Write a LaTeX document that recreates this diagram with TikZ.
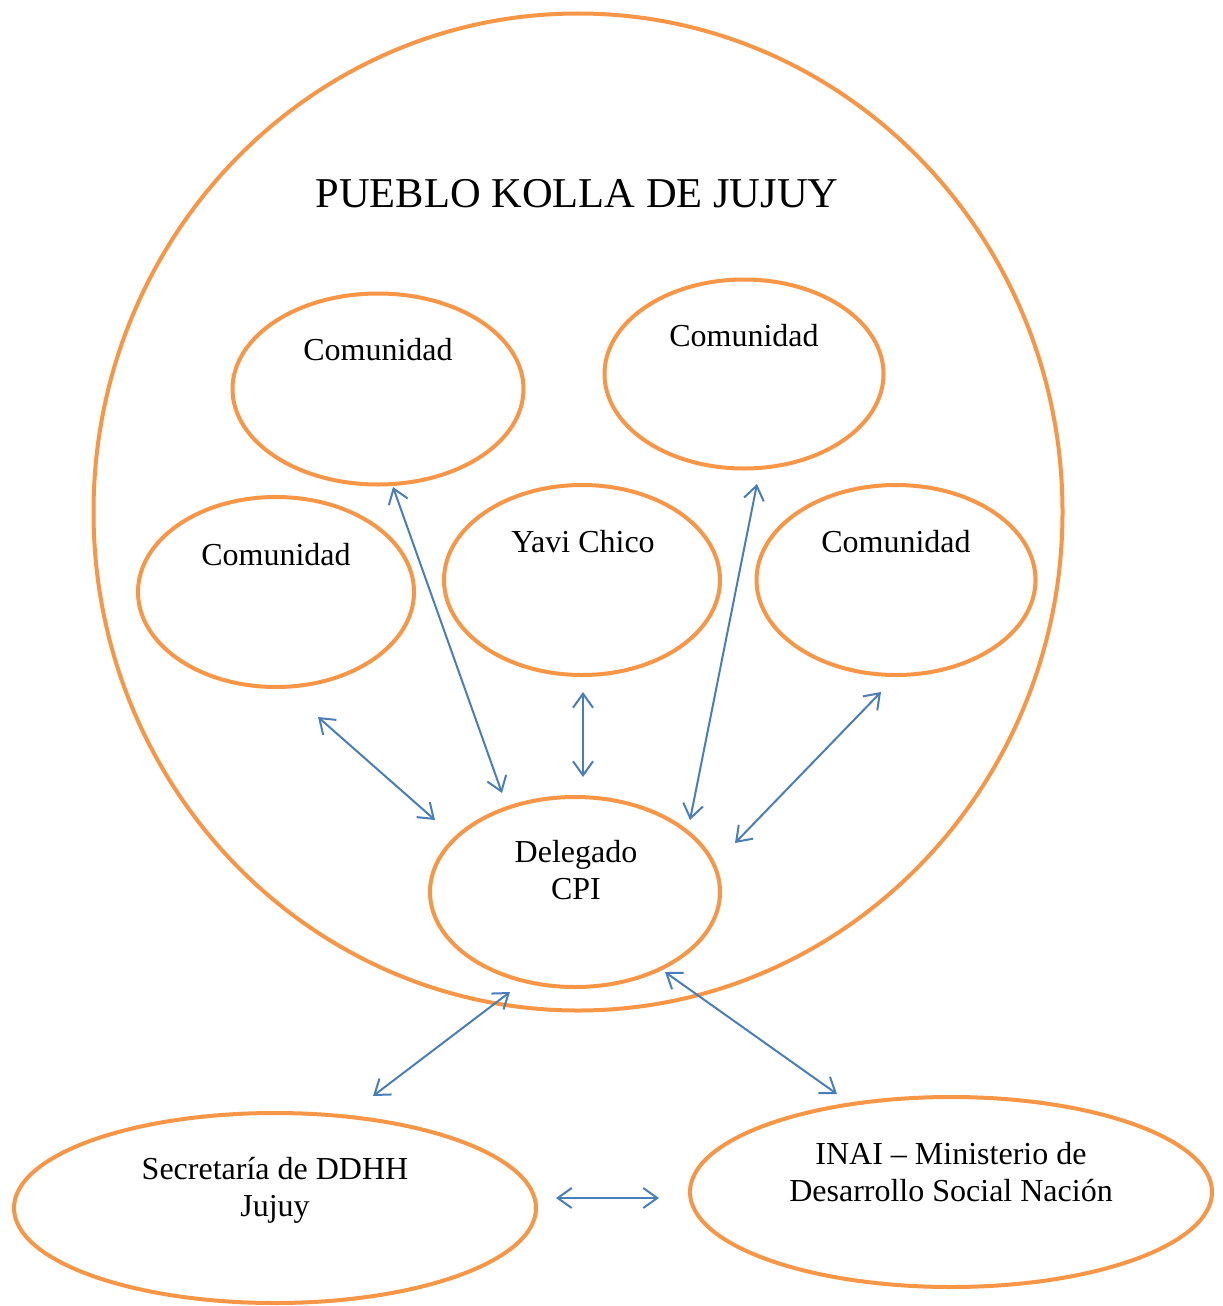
\documentclass[tikz,border=0pt]{standalone}
\usepackage{fontspec}
\setmainfont{Liberation Serif}
\usetikzlibrary{shapes.geometric,arrows.meta}
\definecolor{orng}{HTML}{F79646}
\definecolor{blu}{HTML}{4A7EBB}
\tikzset{
  oval/.style={ellipse,draw=orng,line width=4pt,inner sep=0pt},
  txt/.style={anchor=base,align=center,font=\fontsize{32}{37}\selectfont,inner sep=0pt},
  conn/.style={draw=blu,line width=2pt,{Straight Barb[length=14pt,width=20pt]}-{Straight Barb[length=14pt,width=20pt]}}
}
\begin{document}
\begin{tikzpicture}[x=1pt,y=-1pt]
\useasboundingbox (0,0) rectangle (1223,1306);
% ovals
\node[oval,minimum width=969,minimum height=997] (big) at (578,512) {};
\node[oval,minimum width=291,minimum height=191] (c1) at (378,389) {};
\node[oval,minimum width=279,minimum height=189] (c2) at (744,374) {};
\node[oval,minimum width=276,minimum height=190] (c3) at (276,592) {};
\node[oval,minimum width=276,minimum height=190] (yc) at (582,580) {};
\node[oval,minimum width=279,minimum height=190] (c5) at (896,580) {};
\node[oval,minimum width=290,minimum height=190] (del) at (575,892) {};
\node[oval,minimum width=522,minimum height=190] (sec) at (275,1208) {};
\node[oval,minimum width=522,minimum height=190] (inai) at (951,1192) {};
% texts
\node[txt,font=\fontsize{42.5}{50}\selectfont] (title) at (577,207) {PUEBLO KOLLA DE JUJUY};
\node[txt] (t1) at (378,360) {Comunidad};
\node[txt] (t2) at (744,346) {Comunidad};
\node[txt] (t3) at (276,565) {Comunidad};
\node[txt] (t4) at (583,552) {Yavi Chico};
\node[txt] (t5) at (896,552) {Comunidad};
\node[txt] (t6) at (576,899) {Delegado\\CPI};
\node[txt] (t7) at (275,1216) {Secretaría de DDHH\\Jujuy};
\node[txt] (t8) at (951,1201) {INAI – Ministerio de\\Desarrollo Social Nación};
% connector ends
\coordinate (a1) at (318,717); \coordinate (b1) at (435,820);
\coordinate (a2) at (393,487); \coordinate (b2) at (502,793);
\coordinate (a3) at (583,692); \coordinate (b3) at (583,777);
\coordinate (a4) at (757,484); \coordinate (b4) at (690,820);
\coordinate (a5) at (881,692); \coordinate (b5) at (735,843);
\coordinate (a6) at (510,992); \coordinate (b6) at (373,1096);
\coordinate (a7) at (665,972); \coordinate (b7) at (837,1094);
\coordinate (a8) at (556,1198); \coordinate (b8) at (659,1198);
\foreach \i in {1,...,8} {\draw[conn] (a\i) -- (b\i);}
\end{tikzpicture}
\end{document}
